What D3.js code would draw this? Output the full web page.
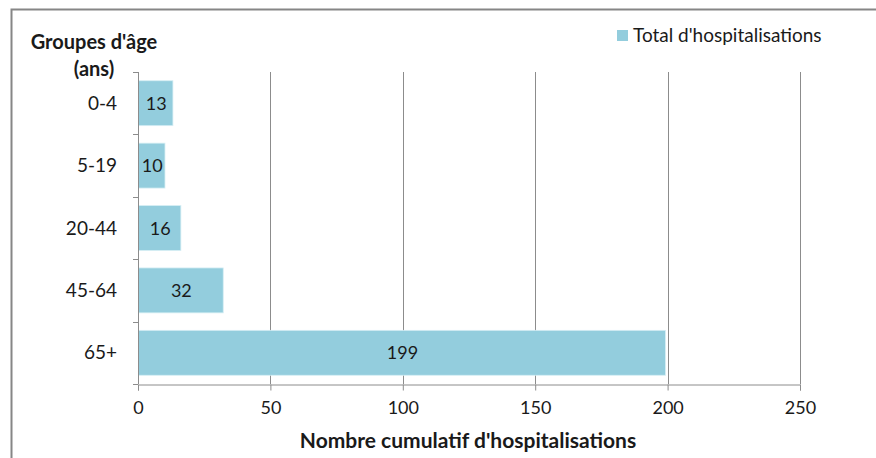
<!DOCTYPE html>
<meta charset="utf-8">
<head>
<title>Hospitalisations par groupe d'âge</title>
<style>
body { margin: 0; background: #fff; }
text { font-family: Lato, "Open Sans", sans-serif; fill: #1a1a1a; }
</style>
</head>
<body>
<div id="chart"></div>
<script src="https://cdnjs.cloudflare.com/ajax/libs/d3/7.8.5/d3.min.js"></script>
<script>
var groupes = ["0-4", "5-19", "20-44", "45-64", "65+"];
var hospitalisations = [13, 10, 16, 32, 199];
var ticksX = [0, 50, 100, 150, 200, 250];

var width = 876,
    height = 458;

var plotLeft = 138, plotRight = 800, plotTop = 72, plotBottom = 384;

var svg = d3.select("#chart").append("svg")
    .attr("width", width)
    .attr("height", height);

// cadre du graphique
svg.append("path")
    .attr("d", "M11.5," + height + "V9.5H" + width)
    .attr("fill", "none")
    .attr("stroke", "#868686")
    .attr("stroke-width", 2);

var x = d3.scaleLinear().domain([0, 250]).range([plotLeft, plotRight]);
var y = d3.scaleBand().domain(groupes).range([plotTop, plotBottom]).paddingInner(0.28).paddingOuter(0.14);

// grille verticale
svg.append("g").selectAll("line")
    .data(ticksX.slice(1))
    .enter().append("line")
    .attr("x1", function(d) { return Math.round(x(d)) + 0.5; })
    .attr("x2", function(d) { return Math.round(x(d)) + 0.5; })
    .attr("y1", plotTop)
    .attr("y2", plotBottom)
    .attr("stroke", "#8c8c8c");

// barres
svg.append("g").selectAll("rect")
    .data(groupes)
    .enter().append("rect")
    .attr("x", x(0) + 0.5)
    .attr("y", function(d) { return y(d); })
    .attr("width", function(d, i) { return x(hospitalisations[i]) - x(0); })
    .attr("height", y.bandwidth())
    .attr("fill", "#93cddd")
    .attr("stroke", "#d6eef4")
    .attr("stroke-width", 0.8);

// valeurs
svg.append("g").selectAll("text")
    .data(groupes)
    .enter().append("text")
    .attr("x", function(d, i) { return (x(0) + x(hospitalisations[i])) / 2 + 1; })
    .attr("y", function(d) { return y(d) + y.bandwidth() / 2 + 6.5; })
    .attr("text-anchor", "middle")
    .style("font-size", "18px")
    .text(function(d, i) { return hospitalisations[i]; });

// axe X
var xAxis = svg.append("g")
    .attr("transform", "translate(0," + (plotBottom + 0.5) + ")")
    .call(d3.axisBottom(x).tickValues(ticksX).tickSize(6).tickPadding(11));
xAxis.select(".domain").attr("stroke", "#8c8c8c");
xAxis.selectAll(".tick line").attr("stroke", "#8c8c8c");
xAxis.selectAll(".tick text")
    .style("font-size", "18px")
    .style("font-family", "Lato, 'Open Sans', sans-serif")
    .attr("fill", "#1a1a1a");

// axe Y
var bounds = d3.range(groupes.length + 1).map(function(i) { return plotTop + i * (plotBottom - plotTop) / groupes.length; });
svg.append("line")
    .attr("x1", plotLeft + 0.5).attr("x2", plotLeft + 0.5)
    .attr("y1", plotTop).attr("y2", plotBottom)
    .attr("stroke", "#8c8c8c");
svg.append("g").selectAll("line")
    .data(bounds)
    .enter().append("line")
    .attr("x1", plotLeft - 5).attr("x2", plotLeft)
    .attr("y1", function(d) { return Math.round(d) + 0.5; })
    .attr("y2", function(d) { return Math.round(d) + 0.5; })
    .attr("stroke", "#8c8c8c");

svg.append("g").selectAll("text")
    .data(groupes)
    .enter().append("text")
    .attr("x", 117)
    .attr("y", function(d) { return y(d) + y.bandwidth() / 2 + 6.5; })
    .attr("text-anchor", "end")
    .style("font-size", "19px")
    .text(function(d) { return d; });

// titres
svg.append("text")
    .attr("x", 94).attr("y", 49)
    .attr("text-anchor", "middle")
    .style("font-size", "20px").style("font-weight", "bold")
    .text("Groupes d'âge");
svg.append("text")
    .attr("x", 94).attr("y", 76)
    .attr("text-anchor", "middle")
    .style("font-size", "20px").style("font-weight", "bold")
    .text("(ans)");

svg.append("text")
    .attr("x", 468).attr("y", 448)
    .attr("text-anchor", "middle")
    .style("font-size", "21px").style("font-weight", "bold")
    .text("Nombre cumulatif d'hospitalisations");

// légende
svg.append("rect")
    .attr("x", 617).attr("y", 30)
    .attr("width", 11).attr("height", 11)
    .attr("fill", "#93cddd");
svg.append("text")
    .attr("x", 633).attr("y", 42)
    .style("font-size", "19px")
    .text("Total d'hospitalisations");
</script>
</body>
